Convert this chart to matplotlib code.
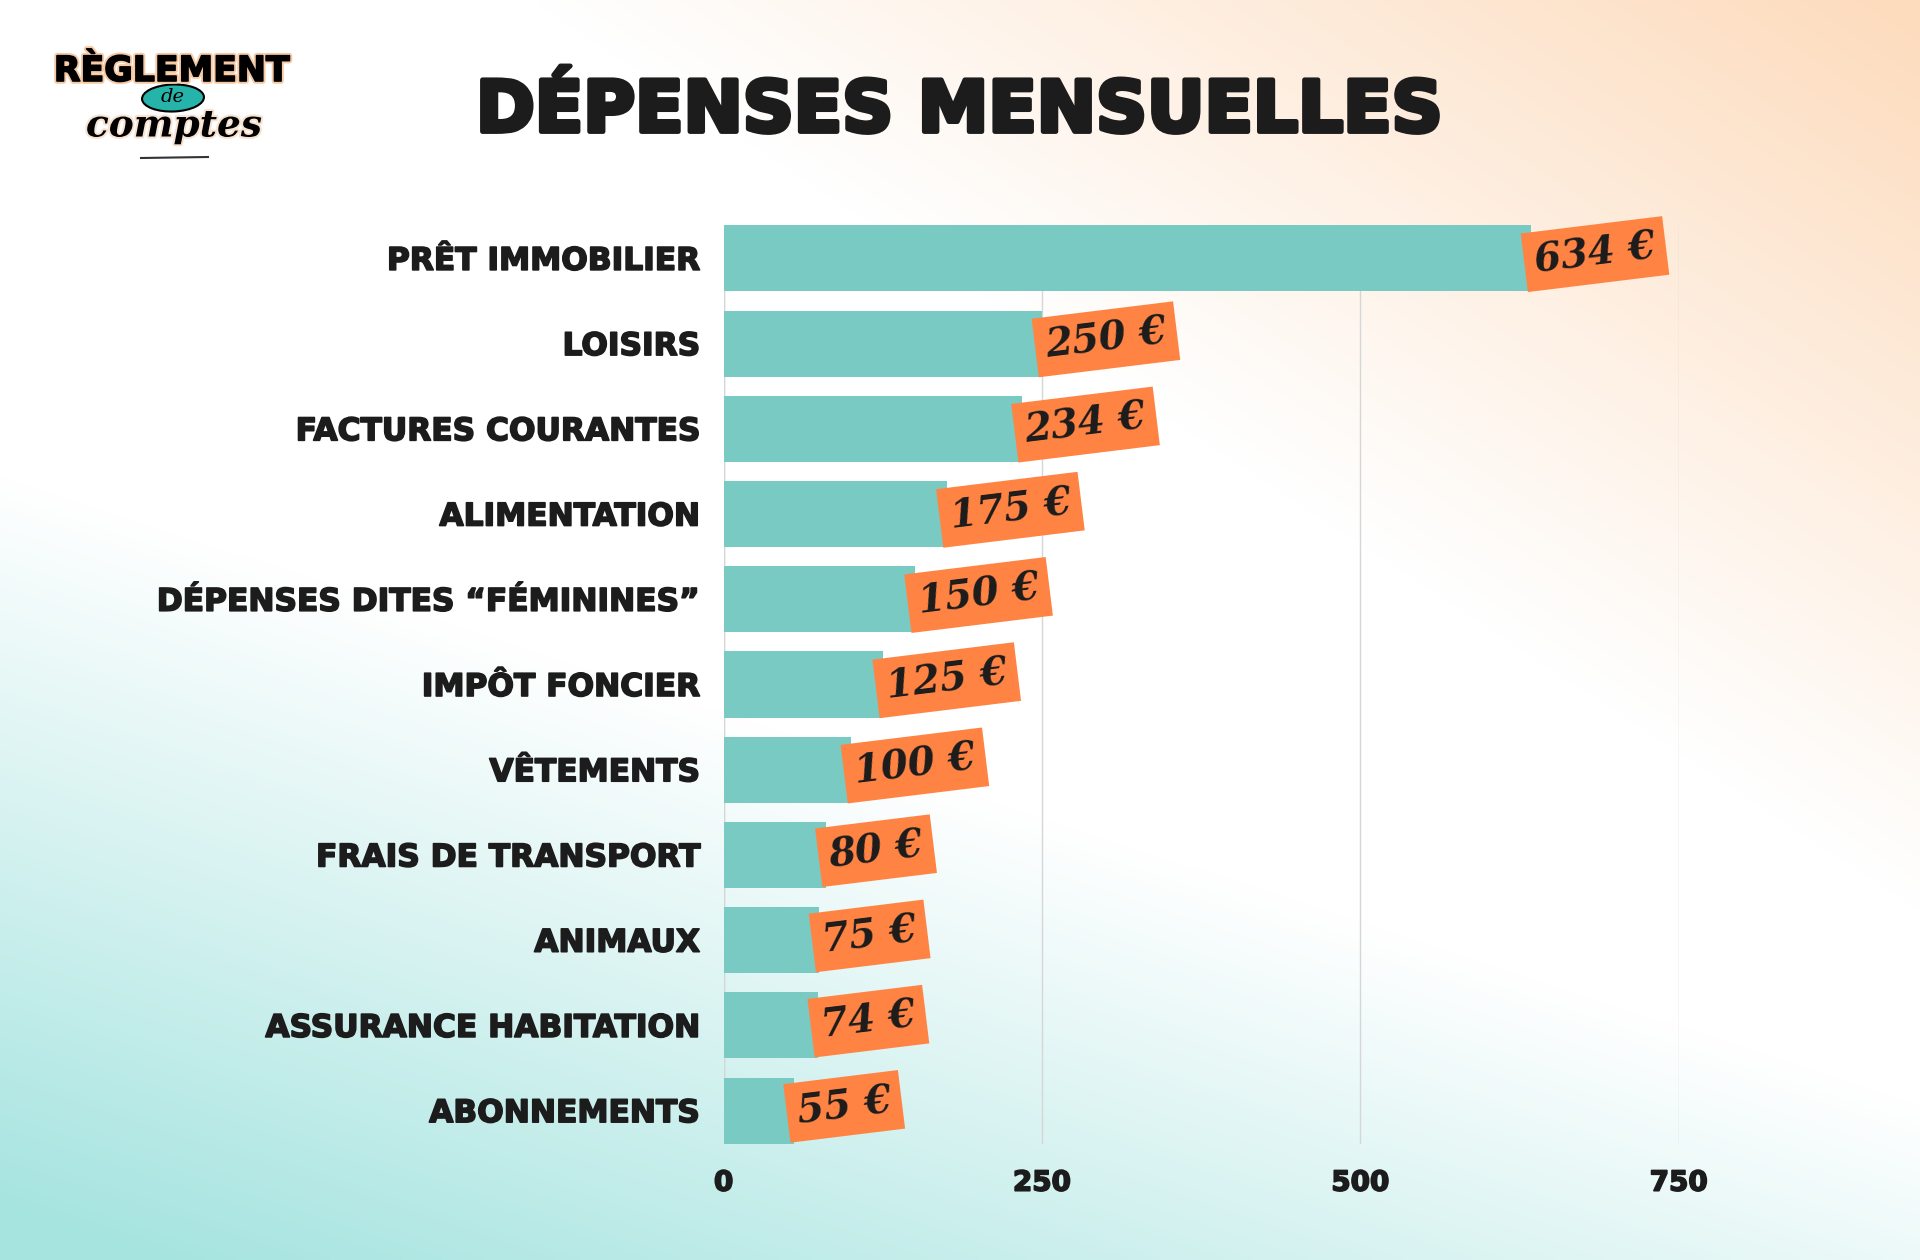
import numpy as np
import matplotlib
matplotlib.use("Agg")
import matplotlib.pyplot as plt
from matplotlib.patches import Ellipse
from matplotlib.lines import Line2D
import matplotlib.patheffects as pe

# data
categories = ["PRÊT IMMOBILIER", "LOISIRS", "FACTURES COURANTES", "ALIMENTATION",
              "DÉPENSES DITES “FÉMININES”", "IMPÔT FONCIER", "VÊTEMENTS",
              "FRAIS DE TRANSPORT", "ANIMAUX", "ASSURANCE HABITATION", "ABONNEMENTS"]
values = [634, 250, 234, 175, 150, 125, 100, 80, 75, 74, 55]
xticks = [0, 250, 500, 750]

TEAL = "#79CAC3"
ORANGE = "#FF8444"
DARK = "#1c1c1c"

W, H = 1920, 1260
fig = plt.figure(figsize=(W / 100, H / 100), dpi=100)


def fx(x):
    return x / W


def fy(y):
    return 1 - y / H


# background gradient (peach top right, teal bottom left)
bg = fig.add_axes([0, 0, 1, 1], zorder=-10)
gx, gy = np.meshgrid(np.linspace(0, 1, 480), np.linspace(0, 1, 315))
wp = np.clip((gx - gy - 0.28) / 0.7, 0, 1)
wt = np.clip((gy - 0.5 * gx - 0.38) / 0.58, 0, 1)
white = np.array([255, 255, 255]) / 255
peach = np.array([253, 220, 190]) / 255
teal_bg = np.array([166, 228, 224]) / 255
img = (white[None, None, :] * (1 - wp - wt)[..., None]
       + peach[None, None, :] * wp[..., None]
       + teal_bg[None, None, :] * wt[..., None])
bg.imshow(np.clip(img, 0, 1), aspect="auto", extent=[0, 1, 1, 0], interpolation="bilinear")
bg.set_axis_off()

# main chart
ax = fig.add_axes([0.3769, 0.0923, 0.8744 - 0.3769, 0.8212 - 0.0923])
ax.patch.set_alpha(0)
y = np.arange(len(categories))
bar_h = 0.776
ax.barh(y, values, height=bar_h, color=TEAL, zorder=2)
ax.set_ylim(len(categories) - 1 + bar_h / 2, -bar_h / 2)
ax.set_xlim(0, 750)
ax.set_yticks(y)
ax.set_yticklabels(categories, fontsize=22.5, fontweight="bold", color=DARK)
ax.set_xticks(xticks)
ax.set_xticklabels([str(t) for t in xticks], fontsize=20, fontweight="bold", color=DARK)
for lab in ax.get_yticklabels() + ax.get_xticklabels():
    lab.set_path_effects([pe.withStroke(linewidth=1.2, foreground=DARK)])
ax.tick_params(axis="y", length=0, pad=17)
ax.tick_params(axis="x", length=0, pad=18)
for s in ax.spines.values():
    s.set_visible(False)
ax.xaxis.grid(True, color="#d6d6d6", linewidth=1, zorder=0)
ax.set_axisbelow(True)
ax.axvline(0, color="#d6d6d6", linewidth=1, zorder=1)

for i, v in enumerate(values):
    ax.text(v + 1, i - 0.05, f"{v} €", rotation=7, ha="left", va="center",
            fontsize=28, fontfamily="DejaVu Serif", fontstyle="italic", fontweight="bold",
            color=DARK, zorder=5, clip_on=False,
            bbox=dict(boxstyle="square,pad=0.27", fc=ORANGE, ec="none"))

# title
fig.text(0.5, fy(112), "DÉPENSES MENSUELLES", ha="center", va="center",
         fontsize=51, fontweight="bold", color=DARK,
         path_effects=[pe.withStroke(linewidth=3.5, foreground=DARK)])

# logo
fig.text(fx(172), fy(71), "RÈGLEMENT", ha="center", va="center", fontsize=25,
         fontweight="bold", color="black",
         path_effects=[pe.withStroke(linewidth=4, foreground="#f7c9a3"),
                       pe.withStroke(linewidth=1.2, foreground="black")])
fig.patches.append(Ellipse((fx(173), fy(98)), 62 / W, 27 / H, angle=4,
                           transform=fig.transFigure, fc="#26b3aa", ec="black", lw=1.5))
fig.text(fx(173), fy(97), "de", ha="center", va="center", fontsize=14,
         fontfamily="DejaVu Serif", fontstyle="italic", color="black")
fig.text(fx(174), fy(126), "comptes", ha="center", va="center", fontsize=27,
         fontfamily="DejaVu Serif", fontstyle="italic", fontweight="bold", color="black",
         path_effects=[pe.withStroke(linewidth=3, foreground="#f7e3d0")])
fig.lines.append(Line2D([fx(141), fx(208)], [fy(158), fy(157)], transform=fig.transFigure,
                        color="#333333", lw=1.5))

fig.savefig("out.png", dpi=100)
